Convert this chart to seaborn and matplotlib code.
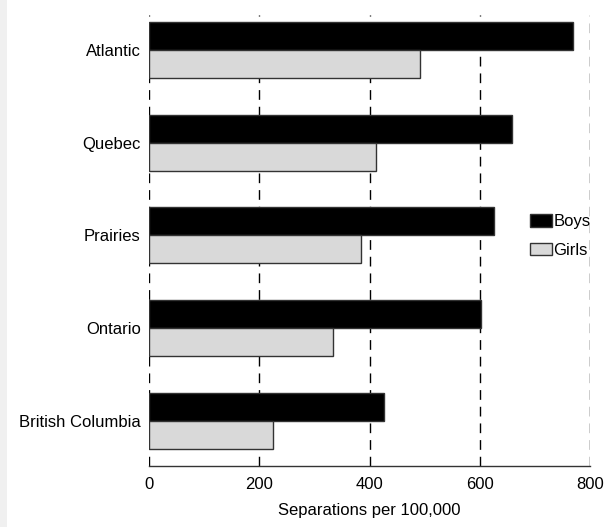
import matplotlib
matplotlib.use("Agg")
import matplotlib.pyplot as plt
import pandas as pd
import seaborn as sns
from matplotlib.patches import Rectangle

# Data
regions = ["Atlantic", "Quebec", "Prairies", "Ontario", "British Columbia"]
boys = [770, 658, 625, 602, 426]
girls = [491, 411, 385, 334, 225]
xticks = [0, 200, 400, 600, 800]

df = pd.DataFrame({
    "Region": regions * 2,
    "Sex": ["Boys"] * len(regions) + ["Girls"] * len(regions),
    "Rate": boys + girls,
})

sns.set_style("white")
plt.rcParams["font.family"] = ["Liberation Sans", "DejaVu Sans"]
plt.rcParams["text.color"] = "black"
plt.rcParams["axes.labelcolor"] = "black"
plt.rcParams["xtick.color"] = "black"
plt.rcParams["ytick.color"] = "black"

fig = plt.figure(figsize=(6.13, 5.27), dpi=100)
ax = fig.add_axes([149 / 613, (527 - 466) / 527, 441 / 613, 451 / 527])

# light strip at the left edge
fig.patches.append(Rectangle((0, 0), 7 / 613, 1, transform=fig.transFigure,
                             facecolor="#f0f0f0", edgecolor="none", zorder=-1))

sns.barplot(data=df, y="Region", x="Rate", hue="Sex", orient="h",
            palette={"Boys": "black", "Girls": "#d9d9d9"},
            width=0.605, edgecolor="#333333", linewidth=1, ax=ax, zorder=3)

ax.set_xlim(0, 800)
ax.set_ylim(4.491, -0.378)
ax.set_xticks(xticks)
ax.set_xticklabels([str(t) for t in xticks], fontsize=12)
ax.tick_params(axis="x", direction="in", length=5, width=1, color="#333333", pad=8)
ax.tick_params(axis="y", length=0, labelsize=12, pad=6)
ax.set_xlabel("Separations per 100,000", fontsize=12, labelpad=8)
ax.set_ylabel("")

for t in xticks:
    ax.axvline(t, color="black", linewidth=1, linestyle=(0, (7, 5)), zorder=1)

for s in ["top", "right", "left"]:
    ax.spines[s].set_visible(False)
ax.spines["bottom"].set_color("#333333")
ax.spines["bottom"].set_linewidth(1)

leg = ax.legend(loc="center left", bbox_to_anchor=(0.83, 0.51), frameon=False,
                fontsize=12, handlelength=1.3, handleheight=0.8,
                handletextpad=0.1, labelspacing=0.8)

fig.savefig("out.png", dpi=100)
